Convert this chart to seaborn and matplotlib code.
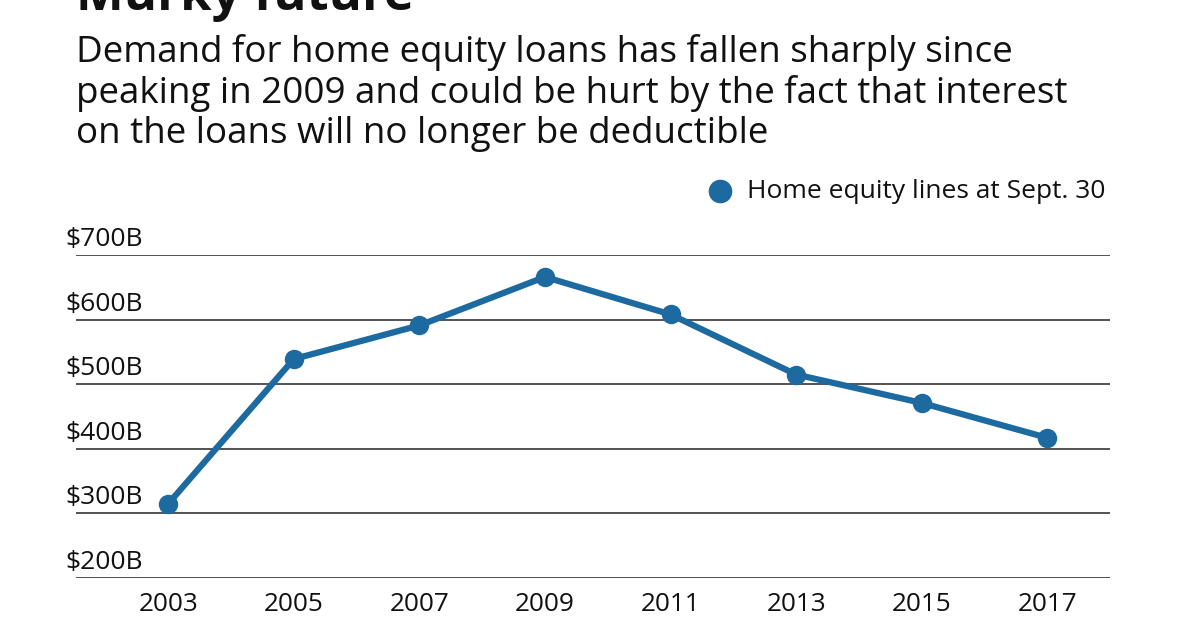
import matplotlib
matplotlib.use("Agg")
import matplotlib.pyplot as plt
import seaborn as sns
import pandas as pd

# values (billions of dollars, home equity lines at Sept. 30)
years = [2003, 2005, 2007, 2009, 2011, 2013, 2015, 2017]
balances = [315, 539, 591, 666, 608, 515, 471, 417]
y_ticks = [200, 300, 400, 500, 600, 700]
y_labels = ["$200B", "$300B", "$400B", "$500B", "$600B", "$700B"]
series_name = "Home equity lines at Sept. 30"

title = "Murky future"
subtitle_lines = ["Demand for home equity loans has fallen sharply since",
                  "peaking in 2009 and could be hurt by the fact that interest",
                  "on the loans will no longer be deductible"]

blue = "#1c6aa0"
ink = "#111111"

sns.set_theme(style="white")
plt.rcParams["font.family"] = ["Open Sans", "DejaVu Sans"]

df = pd.DataFrame({"year": years, "value": balances})

W, H = 1200, 630
fig = plt.figure(figsize=(12, 6.3), dpi=100)
ax = fig.add_axes([76 / W, 1 - 578 / H, (1110 - 76) / W, (578 - 255) / H])

sns.lineplot(data=df, x="year", y="value", ax=ax, color=blue, linewidth=4.5,
             marker="o", markersize=14, markeredgewidth=0, clip_on=False, zorder=3)

ax.set_xlim(2001.53, 2018.0)
ax.set_ylim(200, 700)
ax.set_xticks(years)
ax.set_xticklabels([str(y) for y in years], fontsize=18.8, color=ink)
ax.tick_params(axis="x", length=0, pad=10)
ax.set_yticks(y_ticks)
ax.set_yticklabels([])
ax.tick_params(axis="y", length=0)
ax.set_xlabel("")
ax.set_ylabel("")
for s in ax.spines.values():
    s.set_visible(False)

for v, lab in zip(y_ticks, y_labels):
    ax.axhline(v, color="#444444", linewidth=1.3, zorder=1)
    ax.annotate(lab, xy=(0, v), xycoords=("axes fraction", "data"),
                xytext=(-8, 6.5), textcoords="offset points", ha="left", va="baseline",
                fontsize=19, color=ink)

# legend drawn as a marker + text in figure coords
fig.lines.append(plt.Line2D([720 / W], [1 - 191 / H], transform=fig.transFigure,
                            marker="o", markersize=16, color=blue, linestyle="none"))
fig.text(747 / W, 1 - 191 / H, series_name, fontsize=19, va="center", ha="left", color=ink)

fig.text(76 / W, 1 - 10 / H, title, fontsize=36.5, fontweight="bold", va="baseline",
         ha="left", color=ink)
for i, line in enumerate(subtitle_lines):
    fig.text(76 / W, 1 - (62 + 40.5 * i) / H, line, fontsize=26.5, va="baseline",
             ha="left", color=ink)

fig.savefig("out.png", dpi=100)
